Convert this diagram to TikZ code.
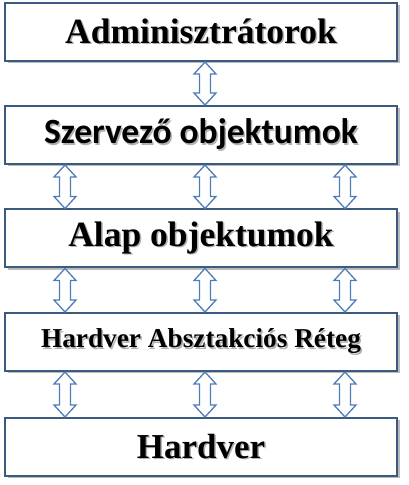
\documentclass[tikz,border=0pt]{standalone}
\usepackage{fontspec}
\setmainfont{Liberation Serif}
\newfontfamily\calibri{Carlito}
\usetikzlibrary{calc,shadows}
\definecolor{boxline}{HTML}{3A5A80}
\definecolor{arrline}{HTML}{4F7DB8}
\newcommand\dblarrow[2]{%
  \draw[arrow] (#1) -- ++(-11,-12) -- ++(5.5,0) -- ($(#2)+(-5.5,12)$) -- ++(-5.5,0)
    -- (#2) -- ++(11,12) -- ++(-5.5,0) -- ($(#1)+(5.5,-12)$) -- ++(5.5,0) -- cycle;}
\newcommand\shtext[1]{\makebox[0pt][l]{\hspace{1.5pt}\raisebox{-1.5pt}{\textcolor{black!30}{#1}}}#1}
\begin{document}
\begin{tikzpicture}[x=1pt, y=1pt,
    layer/.style={draw=boxline, line width=2pt, fill=white, minimum width=392pt, minimum height=58pt,
      inner sep=0pt, font=\bfseries, drop shadow={shadow xshift=2.5pt, shadow yshift=-2.5pt, fill=black!45, opacity=0.6}},
    arrow/.style={draw=arrline, line width=1.3pt, fill=white, line join=miter}]
	\useasboundingbox (0,0) rectangle (409,485);
	
	\node[layer] at (201,453) (adm) {\fontsize{35.5}{35.5}\selectfont\shtext{Adminisztrátorok}};
	\node[layer] at (201,350) (szerv) {\calibri\fontsize{35.5}{35.5}\selectfont\shtext{Szervező objektumok}};
	\node[layer] at (201,246.5) (alap) {\fontsize{35.5}{35.5}\selectfont\shtext{Alap objektumok}};
	\node[layer] at (201,143) (hal) {\fontsize{27.3}{27.3}\selectfont\shtext{Hardver Absztakciós Réteg}};
	\node[layer] at (201,38) (hw) {\fontsize{35}{35}\selectfont\shtext{Hardver}};
	
	\coordinate (c1) at (65,0);
	\coordinate (c2) at (205,0);
	\coordinate (c3) at (345,0);
	
	\dblarrow{adm.south -| c2}{szerv.north -| c2}
	\foreach \up/\down in {szerv/alap, alap/hal, hal/hw}
	  \foreach \c in {c1, c2, c3}
	    {\dblarrow{\up.south -| \c}{\down.north -| \c}}
\end{tikzpicture}
\end{document}
